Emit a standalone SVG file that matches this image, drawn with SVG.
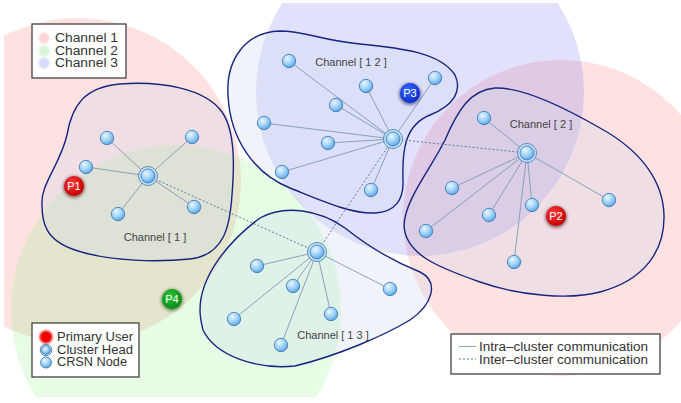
<svg xmlns="http://www.w3.org/2000/svg" width="681" height="403" viewBox="0 0 681 403">
<defs>
<clipPath id="area"><rect x="4" y="3" width="677" height="394"/></clipPath>
<radialGradient id="ng" cx="0.38" cy="0.32" r="0.7">
<stop offset="0" stop-color="#eaf6ff"/><stop offset="0.55" stop-color="#9fd2f7"/><stop offset="1" stop-color="#5aa4e4"/>
</radialGradient>
<radialGradient id="red" cx="0.4" cy="0.35" r="0.65"><stop offset="0" stop-color="#ff3a3a"/><stop offset="1" stop-color="#c40000"/></radialGradient>
<radialGradient id="blu" cx="0.4" cy="0.35" r="0.65"><stop offset="0" stop-color="#3a6cff"/><stop offset="1" stop-color="#0a2ad0"/></radialGradient>
<radialGradient id="grn" cx="0.4" cy="0.35" r="0.65"><stop offset="0" stop-color="#2ec43a"/><stop offset="1" stop-color="#0a8a14"/></radialGradient>
<filter id="glow" x="-50%" y="-50%" width="200%" height="200%"><feGaussianBlur stdDeviation="1.6"/></filter>
<filter id="soft" x="-50%" y="-50%" width="200%" height="200%"><feGaussianBlur stdDeviation="0.8"/></filter>
</defs>
<style>
.blob{fill:rgba(205,218,238,0.3);stroke:#16257e;stroke-width:1.4}
.intra{stroke:#7f99b3;stroke-width:0.9;fill:none}
.inter{stroke:#5a7ca3;stroke-width:1;stroke-dasharray:2 2;fill:none}
.node{fill:url(#ng);stroke:#3a74ad;stroke-width:0.8}
.ring{fill:#c6e4fa;stroke:#3a74ad;stroke-width:0.8}
.lbl{font-family:"Liberation Sans",Arial,sans-serif;font-size:11px;fill:#444}
.pu{font-family:"Liberation Sans",Arial,sans-serif;font-size:11px;fill:#fff;text-anchor:middle}
.leg{font-family:"Liberation Sans",Arial,sans-serif;font-size:12px;fill:#333}
.legs{font-family:"Liberation Sans",Arial,sans-serif;font-size:12px;fill:#333}
.box{fill:#fff;stroke:#444;stroke-width:1.3}
</style>
<rect width="681" height="403" fill="#fff"/>
<g id="channels" clip-path="url(#area)">
<circle cx="78" cy="181" r="163" fill="rgba(250,120,120,0.22)"/>
<circle cx="176" cy="310" r="165" fill="rgba(130,240,120,0.2)"/>
<circle cx="561" cy="218" r="158" fill="rgba(250,120,120,0.22)"/>
<circle cx="420" cy="92" r="164" fill="rgba(120,120,240,0.22)"/>
</g>
<g id="clusters">
<path id="cluster1" class="blob" d="M 42,205 C 40,185 60,165 67,135 C 72,105 85,87 120,84 C 160,81 205,88 222,112 C 236,132 234,170 232,195 C 230,225 225,255 190,259 C 160,262 110,262 75,250 C 45,240 42,222 42,205 Z"/>
<path id="cluster12" class="blob" d="M 228,95 C 226,60 245,32 280,31 C 305,31 320,40 360,44 C 400,48 440,52 455,75 C 462,90 455,105 430,115 C 405,125 402,150 403,180 C 404,200 395,212 375,213 C 350,214 320,200 290,188 C 255,174 230,140 228,95 Z"/>
<path id="cluster2" class="blob" d="M 404,225 C 405,200 430,170 445,140 C 458,110 470,90 495,88 C 520,87 560,105 600,128 C 640,150 663,180 664,215 C 665,250 645,280 600,292 C 570,300 520,296 480,282 C 440,268 405,255 404,225 Z"/>
<path id="cluster13" class="blob" d="M 200,310 C 200,275 230,240 260,218 C 285,204 320,210 345,228 C 370,248 395,262 420,272 C 440,282 432,305 410,320 C 385,335 340,355 295,366 C 255,370 215,355 203,330 C 201,322 200,316 200,310 Z"/>
</g>
<g id="labels">
<text class="lbl" x="155" y="241" text-anchor="middle">Channel  [ 1 ]</text>
<text class="lbl" x="351" y="66" text-anchor="middle">Channel  [ 1 2 ]</text>
<text class="lbl" x="541" y="128" text-anchor="middle">Channel  [ 2 ]</text>
<text class="lbl" x="333" y="339" text-anchor="middle">Channel  [ 1 3 ]</text>
</g>
<g id="connectors">
<g class="intra">
<path d="M148,176L107,138M148,176L192,137M148,176L86,167M148,176L118,214M148,176L194,207"/>
<path d="M393,139L289,61M393,139L366,86M393,139L435,78M393,139L336,105M393,139L264,123M393,139L328,143M393,139L282,172M393,139L371,190"/>
<path d="M527,153L484,118M527,153L452,188M527,153L426,231M527,153L489,215M527,153L532,205M527,153L609,200M527,153L514,262"/>
<path d="M317,252L257,266M317,252L293,286M317,252L390,289M317,252L331,314M317,252L234,319M317,252L281,345"/>
</g>
<g class="inter">
<path d="M148,176L317,252M317,252L393,139M393,139L527,153"/>
</g>
</g>
<g id="nodes">
<circle class="node" cx="107" cy="138" r="6.7"/><circle class="node" cx="192" cy="137" r="6.7"/><circle class="node" cx="86" cy="167" r="6.7"/><circle class="node" cx="118" cy="214" r="6.7"/><circle class="node" cx="194" cy="207" r="6.7"/>
<circle class="node" cx="289" cy="61" r="6.7"/><circle class="node" cx="366" cy="86" r="6.7"/><circle class="node" cx="435" cy="78" r="6.7"/><circle class="node" cx="336" cy="105" r="6.7"/><circle class="node" cx="264" cy="123" r="6.7"/><circle class="node" cx="328" cy="143" r="6.7"/><circle class="node" cx="282" cy="172" r="6.7"/><circle class="node" cx="371" cy="190" r="6.7"/>
<circle class="node" cx="484" cy="118" r="6.7"/><circle class="node" cx="452" cy="188" r="6.7"/><circle class="node" cx="426" cy="231" r="6.7"/><circle class="node" cx="489" cy="215" r="6.7"/><circle class="node" cx="532" cy="205" r="6.7"/><circle class="node" cx="609" cy="200" r="6.7"/><circle class="node" cx="514" cy="262" r="6.7"/>
<circle class="node" cx="257" cy="266" r="6.7"/><circle class="node" cx="293" cy="286" r="6.7"/><circle class="node" cx="390" cy="289" r="6.7"/><circle class="node" cx="331" cy="314" r="6.7"/><circle class="node" cx="234" cy="319" r="6.7"/><circle class="node" cx="281" cy="345" r="6.7"/>
</g>
<g id="heads">
<g id="head1"><circle class="ring" cx="148" cy="176" r="9.5"/><circle class="node" cx="148" cy="176" r="7"/></g>
<g id="head12"><circle class="ring" cx="393" cy="139" r="9.5"/><circle class="node" cx="393" cy="139" r="7"/></g>
<g id="head2"><circle class="ring" cx="527" cy="153" r="9.5"/><circle class="node" cx="527" cy="153" r="7"/></g>
<g id="head13"><circle class="ring" cx="317" cy="252" r="9.5"/><circle class="node" cx="317" cy="252" r="7"/></g>
</g>
<g id="P1"><circle cx="74" cy="187" r="11" fill="#400" opacity="0.5" filter="url(#glow)"/><circle cx="74" cy="186" r="10" fill="url(#red)"/><text class="pu" x="74" y="190">P1</text></g>
<g id="P2"><circle cx="556" cy="217" r="11" fill="#400" opacity="0.5" filter="url(#glow)"/><circle cx="556" cy="216" r="10" fill="url(#red)"/><text class="pu" x="556" y="220">P2</text></g>
<g id="P3"><circle cx="410" cy="94" r="11" fill="#004" opacity="0.5" filter="url(#glow)"/><circle cx="410" cy="93" r="10" fill="url(#blu)"/><text class="pu" x="410" y="97">P3</text></g>
<g id="P4"><circle cx="172" cy="300" r="11" fill="#040" opacity="0.5" filter="url(#glow)"/><circle cx="172" cy="299" r="10" fill="url(#grn)"/><text class="pu" x="172" y="303">P4</text></g>
<g id="legend-channels">
<rect class="box" x="32" y="24" width="94" height="54"/>
<circle cx="44" cy="38" r="5.5" fill="#fbd6d6" filter="url(#soft)"/>
<circle cx="44" cy="51" r="5.5" fill="#d6f7d6" filter="url(#soft)"/>
<circle cx="44" cy="63" r="5.5" fill="#d6dafa" filter="url(#soft)"/>
<text class="leg" x="55" y="42" textLength="63" lengthAdjust="spacingAndGlyphs">Channel  1</text>
<text class="leg" x="55" y="54.5" textLength="63" lengthAdjust="spacingAndGlyphs">Channel  2</text>
<text class="leg" x="55" y="67" textLength="63" lengthAdjust="spacingAndGlyphs">Channel  3</text>
</g>
<g id="legend-nodes">
<rect class="box" x="32" y="323" width="107" height="54"/>
<circle cx="46" cy="337" r="6.5" fill="#e00" filter="url(#soft)"/>
<circle class="ring" cx="46" cy="350" r="5.8"/><circle class="node" cx="46" cy="350" r="4.3"/>
<circle class="node" cx="46" cy="362.5" r="5.5"/>
<text class="leg" x="57" y="341" textLength="76" lengthAdjust="spacingAndGlyphs">Primary User</text>
<text class="leg" x="57" y="353.5" textLength="76" lengthAdjust="spacingAndGlyphs">Cluster Head</text>
<text class="leg" x="57" y="366" textLength="70" lengthAdjust="spacingAndGlyphs">CRSN Node</text>
</g>
<g id="legend-links">
<rect class="box" x="451" y="334" width="209" height="40"/>
<line x1="459" y1="346.5" x2="476" y2="346.5" class="intra"/>
<line x1="459" y1="359" x2="476" y2="359" class="inter"/>
<text class="legs" x="479" y="351" textLength="169" lengthAdjust="spacingAndGlyphs">Intra–cluster communication</text>
<text class="legs" x="479" y="363.5" textLength="169" lengthAdjust="spacingAndGlyphs">Inter–cluster communication</text>
</g>
</svg>
